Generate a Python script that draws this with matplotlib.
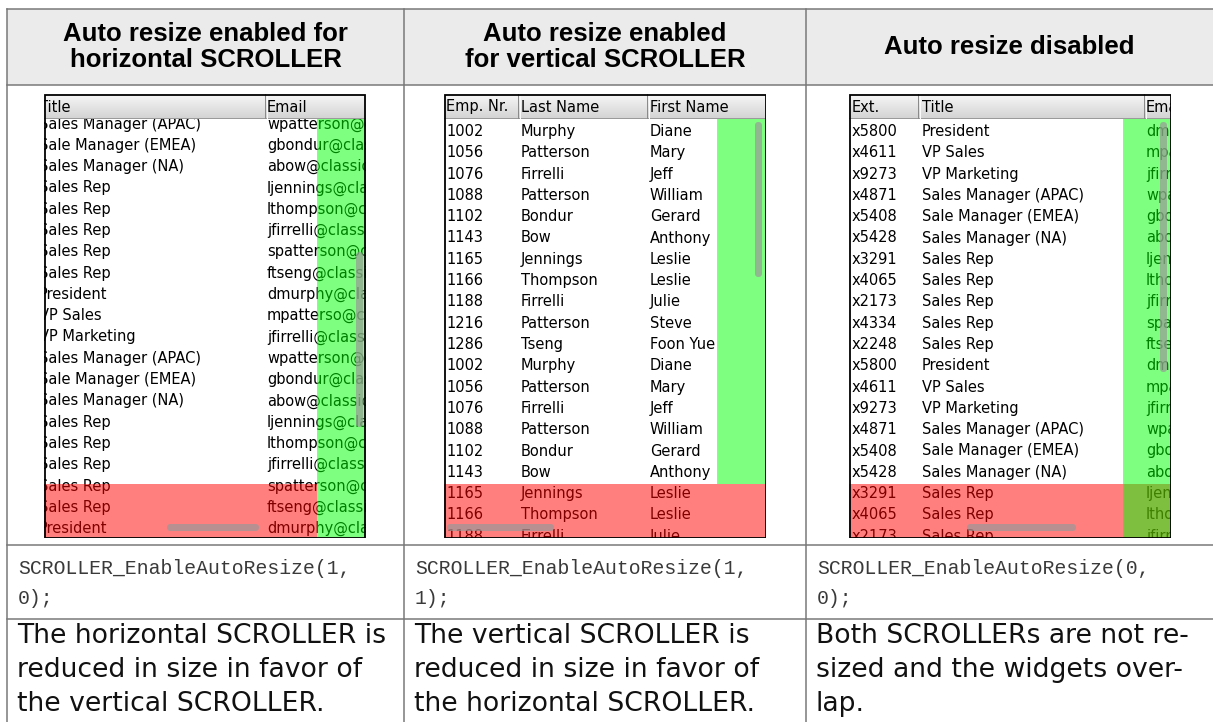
import numpy as np
import matplotlib.pyplot as plt
from matplotlib.patches import Rectangle, FancyBboxPatch
from matplotlib.colors import LinearSegmentedColormap

W, H = 1213, 722
PX = 0.72  # one pixel in points

# table texts
headers = ["Auto resize enabled for\nhorizontal SCROLLER",
           "Auto resize enabled\nfor vertical SCROLLER",
           "Auto resize disabled"]
code_lines = [["SCROLLER_EnableAutoResize(1,", "0);"],
              ["SCROLLER_EnableAutoResize(1,", "1);"],
              ["SCROLLER_EnableAutoResize(0,", "0);"]]
descriptions = [["The horizontal SCROLLER is", "reduced in size in favor of", "the vertical SCROLLER."],
                ["The vertical SCROLLER is", "reduced in size in favor of", "the horizontal SCROLLER."],
                ["Both SCROLLERs are not re-", "sized and the widgets over-", "lap."]]

# employee table shown in the widgets
emp_nr = ["1002", "1056", "1076", "1088", "1102", "1143", "1165", "1166", "1188", "1216", "1286"]
last_names = ["Murphy", "Patterson", "Firrelli", "Patterson", "Bondur", "Bow",
              "Jennings", "Thompson", "Firrelli", "Patterson", "Tseng"]
first_names = ["Diane", "Mary", "Jeff", "William", "Gerard", "Anthony",
               "Leslie", "Leslie", "Julie", "Steve", "Foon Yue"]
extensions = ["x5800", "x4611", "x9273", "x4871", "x5408", "x5428",
              "x3291", "x4065", "x2173", "x4334", "x2248"]
titles = ["President", "VP Sales", "VP Marketing", "Sales Manager (APAC)", "Sale Manager (EMEA)",
          "Sales Manager (NA)", "Sales Rep", "Sales Rep", "Sales Rep", "Sales Rep", "Sales Rep"]
emails = ["dmurphy@classicmodelcars.com", "mpatterso@classicmodelcars.com",
          "jfirrelli@classicmodelcars.com", "wpatterson@classicmodelcars.com",
          "gbondur@classicmodelcars.com", "abow@classicmodelcars.com",
          "ljennings@classicmodelcars.com", "lthompson@classicmodelcars.com",
          "jfirrelli@classicmodelcars.com", "spatterson@classicmodelcars.com",
          "ftseng@classicmodelcars.com"]

# visible rows of each widget (index into the table)
rows_w1 = [3, 4, 5, 6, 7, 8, 9, 10, 0, 1, 2, 3, 4, 5, 6, 7, 8, 9, 10, 0]
rows_w2 = [0, 1, 2, 3, 4, 5, 6, 7, 8, 9, 10, 0, 1, 2, 3, 4, 5, 6, 7, 8]
rows_w3 = [0, 1, 2, 3, 4, 5, 6, 7, 8, 9, 10, 0, 1, 2, 3, 4, 5, 6, 7, 8]

fields = {"Emp. Nr.": emp_nr, "Last Name": last_names, "First Name": first_names,
          "Ext.": extensions, "Title": titles, "Email": emails}

fig = plt.figure(figsize=(W / 100, H / 100), dpi=100)
ax = fig.add_axes([0, 0, 1, 1])
ax.set_xlim(0, W)
ax.set_ylim(H, 0)
ax.axis("off")

col_x = [7, 404, 806, W]
line_c = "#777777"
ax.add_patch(Rectangle((7, 9), W - 7, 76, facecolor="#ebebeb", edgecolor="none"))
for y in [9, 85, 545, 619]:
    ax.plot([7, W], [y, y], color=line_c, lw=1.5 * PX)
for x in col_x[:3]:
    ax.plot([x, x], [9, H], color=line_c, lw=1.5 * PX)

for i in range(3):
    cx = (col_x[i] + col_x[i + 1]) / 2
    ax.text(cx, 47, headers[i], ha="center", va="center", fontsize=18.5,
            fontweight="bold", family="Liberation Sans", linespacing=1.12)
    for j, s in enumerate(code_lines[i]):
        ax.text(col_x[i] + 11, 568 + 30 * j, s, ha="left", va="center", fontsize=14.2,
                family="Liberation Mono", color="#3a3a3a")
    for j, s in enumerate(descriptions[i]):
        ax.text(col_x[i] + 10, 636 + 34 * j, s, ha="left", va="center", fontsize=19.2,
                family="DejaVu Sans", color="#111111")

hdr_cmap = LinearSegmentedColormap.from_list("hdr", ["#f7f7f7", "#d4d4d4"])
WW, WH, HDR, ROW = 322, 444, 24, 21.3
clipped = []


def draw_widget(left, cols, dividers, rows, first_y, green, red, vthumb, hthumb):
    wa = fig.add_axes([left / W, 1 - (94 + WH) / H, WW / W, WH / H])
    wa.set_xlim(0, WW)
    wa.set_ylim(WH, 0)
    wa.axis("off")
    wa.add_patch(Rectangle((0, 0), WW, WH, facecolor="white", edgecolor="none", zorder=0))
    for k, r in enumerate(rows):
        y = first_y + k * ROW
        for name, x in cols:
            t = wa.text(x, y, fields[name][r], ha="left", va="center", fontsize=10.5,
                        family="DejaVu Sans", color="black", clip_on=True, zorder=2)
            clipped.append((t, wa))
    # scroller areas, green drawn over red
    rx, ry, rw, rh = red
    wa.add_patch(Rectangle((rx, ry), rw, rh, facecolor=(1, 0, 0), alpha=0.5,
                           edgecolor="none", zorder=3))
    gx, gy, gw, gh = green
    wa.add_patch(Rectangle((gx, gy), gw, gh, facecolor=(0, 1, 0), alpha=0.5,
                           edgecolor="none", zorder=3.1))
    for tx, ty, tw, th in [vthumb, hthumb]:
        wa.add_patch(FancyBboxPatch((tx, ty), tw, th, boxstyle="round,pad=0,rounding_size=3.5",
                                    facecolor=(0.6, 0.6, 0.6), alpha=0.7, edgecolor="none",
                                    zorder=4))
    # header
    wa.imshow(np.linspace(0, 1, 24).reshape(-1, 1), extent=[0, WW, HDR, 0], cmap=hdr_cmap,
              aspect="auto", zorder=5)
    wa.plot([0, WW], [HDR, HDR], color="#9a9a9a", lw=1 * PX, zorder=5.1)
    for d in dividers:
        wa.plot([d, d], [0, HDR], color="#8a8a8a", lw=1 * PX, zorder=5.1)
        wa.plot([d + 1.5, d + 1.5], [0, HDR], color="#fafafa", lw=1 * PX, zorder=5.1)
    for name, x in cols:
        t = wa.text(x, HDR / 2 + 1, name, ha="left", va="center", fontsize=10.5,
                    family="DejaVu Sans", color="black", clip_on=True, zorder=6)
        clipped.append((t, wa))
    wa.add_patch(Rectangle((0.5, 0.5), WW - 1, WH - 1, facecolor="none", edgecolor="black",
                           lw=1.8 * PX, zorder=7))
    wa.set_ylim(WH, 0)


draw_widget(44, [("Title", -5), ("Email", 223)], [221], rows_w1, 30,
            green=(273, HDR, WW - 273, WH - HDR), red=(0, 390, 273, WH - 390),
            vthumb=(312, 158, 7, 175), hthumb=(123, 430, 92, 7))
draw_widget(444, [("Emp. Nr.", 2), ("Last Name", 77), ("First Name", 206)], [74, 203], rows_w2, 37.5,
            green=(273, HDR, WW - 273, 390 - HDR), red=(0, 390, WW, WH - 390),
            vthumb=(311, 28, 7, 155), hthumb=(3, 430, 107, 7))
draw_widget(849, [("Ext.", 3), ("Title", 73), ("Email", 297)], [69, 295], rows_w3, 37.5,
            green=(274, HDR, WW - 274, WH - HDR), red=(0, 390, WW, WH - 390),
            vthumb=(311, 28, 7, 250), hthumb=(118, 430, 109, 7))

# the widget clips its cells: drop characters lying wholly outside the widget
fig.canvas.draw()
renderer = fig.canvas.get_renderer()
for t, wa in clipped:
    right = wa.get_window_extent(renderer).x1
    s = t.get_text()
    while len(s) > 1:
        t.set_text(s[:-1])
        if t.get_window_extent(renderer).x1 >= right:
            s = s[:-1]
        else:
            t.set_text(s)
            break

fig.savefig("out.png", dpi=100)
